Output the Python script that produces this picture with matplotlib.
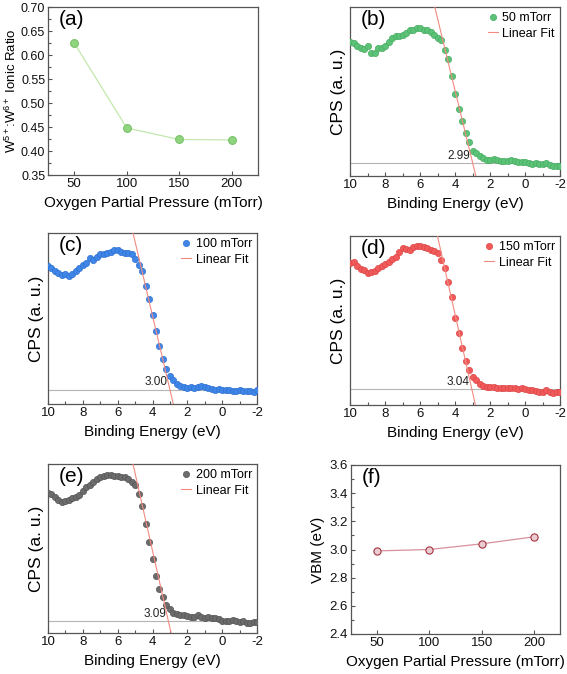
import matplotlib
matplotlib.use("Agg")
import matplotlib.pyplot as plt
from matplotlib.ticker import MultipleLocator, NullLocator, FormatStrFormatter

plt.rcParams['font.family'] = ['Liberation Sans', 'DejaVu Sans']
plt.rcParams['mathtext.fontset'] = 'custom'
plt.rcParams['mathtext.rm'] = 'Liberation Sans'
plt.rcParams['mathtext.it'] = 'Liberation Sans:italic'
plt.rcParams['axes.unicode_minus'] = False

# ---------------- data ----------------
pressure = [50, 100, 150, 200]
ionic_ratio = [0.625, 0.448, 0.424, 0.423]
vbm = [2.99, 3.00, 3.04, 3.09]

binding_energy = [10.0, 9.8, 9.6, 9.4, 9.2, 9.0, 8.8, 8.6, 8.4, 8.2,
                  8.0, 7.8, 7.6, 7.4, 7.2, 7.0, 6.8, 6.6, 6.4, 6.2,
                  6.0, 5.8, 5.6, 5.4, 5.2, 5.0, 4.8, 4.6, 4.4, 4.2,
                  4.0, 3.8, 3.6, 3.4, 3.2, 3.0, 2.8, 2.6, 2.4, 2.2,
                  2.0, 1.8, 1.6, 1.4, 1.2, 1.0, 0.8, 0.6, 0.4, 0.2,
                  0.0, -0.2, -0.4, -0.6, -0.8, -1.0, -1.2, -1.4, -1.6, -1.8,
                  -2.0]

cps_50 = [401, 398, 391, 383, 382, 389, 368, 370, 385, 385,
          391, 403, 415, 421, 421, 423, 428, 438, 437, 445,
          445, 439, 437, 433, 423, 415, 407, 378, 351, 300,
          245, 200, 165, 128, 101, 75, 70, 61, 53, 48,
          49, 51, 47, 45, 46, 44, 47, 44, 41, 41,
          41, 38, 36, 39, 37, 36, 39, 33, 31, 31,
          31]
cps_100 = [415, 409, 399, 392, 388, 389, 383, 391, 399, 407,
           417, 422, 437, 433, 441, 449, 450, 453, 456, 461,
           461, 457, 453, 453, 449, 435, 417, 399, 354, 314,
           267, 219, 174, 134, 104, 83, 71, 61, 55, 51,
           49, 50, 48, 50, 53, 50, 47, 45, 43, 45,
           41, 43, 41, 39, 39, 41, 39, 39, 39, 35,
           43]
cps_150 = [426, 428, 416, 409, 404, 396, 400, 402, 412, 416,
           422, 430, 438, 444, 458, 472, 468, 466, 474, 478,
           476, 474, 470, 466, 462, 456, 436, 410, 368, 324,
           261, 216, 172, 131, 106, 84, 75, 62, 56, 54,
           54, 53, 50, 50, 50, 51, 51, 50, 48, 50,
           48, 44, 44, 42, 38, 39, 44, 40, 36, 38,
           40]
cps_200 = [421, 417, 409, 399, 393, 396, 399, 405, 407, 415,
           427, 439, 445, 453, 461, 468, 472, 475, 475, 471,
           471, 467, 467, 461, 453, 443, 417, 381, 327, 272,
           222, 172, 132, 107, 83, 71, 61, 57, 53, 53,
           51, 49, 49, 53, 49, 46, 49, 46, 45, 41,
           37, 37, 37, 38, 36, 33, 35, 31, 31, 33,
           33]

spectra = [cps_50, cps_100, cps_150, cps_200]
spectrum_labels = ['50 mTorr', '100 mTorr', '150 mTorr', '200 mTorr']
baseline_level = [39, 43, 48, 36]
fit_slope = [216, 222, 234, 232]
panel_letters = ['(b)', '(c)', '(d)', '(e)']

# ---------------- styles / layout ----------------
W, H = 567, 674
fig = plt.figure(figsize=(W / 100, H / 100), dpi=100)

def px_axes(left, top, right, bottom):
    return fig.add_axes([left / W, 1 - bottom / H, (right - left) / W, (bottom - top) / H])

spine_color = '#555555'
tick_fs = 9.5
label_fs = 11
letter_fs = 15

def style(ax):
    for s in ax.spines.values():
        s.set_color(spine_color)
        s.set_linewidth(0.9)
    ax.tick_params(which='both', direction='in', colors=spine_color, labelcolor='#111111',
                   labelsize=tick_fs, width=0.8, pad=2.5)
    ax.tick_params(which='major', length=3)
    ax.tick_params(which='minor', length=2)

# (a)
axa = px_axes(48, 7, 258, 175)
style(axa)
axa.tick_params(axis='y', labelsize=9, pad=2)
axa.plot(pressure, ionic_ratio, '-', color='#c3e8ad', lw=0.9, zorder=2)
axa.plot(pressure, ionic_ratio, 'o', ms=5.6, mfc='#90d47f', mec='#78c268', mew=0.8, zorder=3)
axa.set_xlim(25, 225)
axa.set_ylim(0.35, 0.70)
axa.xaxis.set_major_locator(MultipleLocator(50))
axa.xaxis.set_minor_locator(NullLocator())
axa.yaxis.set_major_locator(MultipleLocator(0.05))
axa.yaxis.set_minor_locator(MultipleLocator(0.025))
axa.yaxis.set_major_formatter(FormatStrFormatter('%.2f'))
axa.set_xlabel('Oxygen Partial Pressure (mTorr)', fontsize=label_fs, labelpad=4)
axa.set_ylabel('W$^{5+}$:W$^{6+}$ Ionic Ratio', fontsize=9.5, labelpad=1)
axa.text(0.05, 0.98, '(a)', transform=axa.transAxes, ha='left', va='top', fontsize=letter_fs)

# spectra
boxes = [(350, 7, 560, 176, 507), (48, 233, 257, 404, 513),
         (350, 236, 560, 405, 507), (48, 464, 257, 633, 507)]
colors = [('#5cc277', '#47ad62'), ('#3f86e8', '#2f72d0'),
          ('#f05a5a', '#dd4646'), ('#6c6c6c', '#555555')]
fit_color = '#f28a80'

for i in range(4):
    l, t, r, b, ymax = boxes[i]
    ax = px_axes(l, t, r, b)
    style(ax)
    base = baseline_level[i]
    ax.axhline(base, color='#b5b5b5', lw=0.8, zorder=1)
    fc, ec = colors[i]
    ax.plot(binding_energy, spectra[i], 'o', ms=4.5, mfc=fc, mec=ec, mew=0.5,
            label=spectrum_labels[i], zorder=3)
    e0 = vbm[i]
    s = fit_slope[i]
    e_lo = e0 + (-20 - base) / s
    e_hi = e0 + (ymax + 20 - base) / s
    ax.plot([e_lo, e_hi], [base + s * (e_lo - e0), base + s * (e_hi - e0)],
            '-', color=fit_color, lw=0.8, label='Linear Fit', zorder=4)
    ax.text(e0 + 0.13, base + 4, f'{vbm[i]:.2f}', ha='right', va='bottom', fontsize=8.5,
            color='#222222')
    ax.set_xlim(10, -2)
    ax.set_ylim(0, ymax)
    ax.xaxis.set_major_locator(MultipleLocator(2))
    ax.xaxis.set_minor_locator(MultipleLocator(1))
    ax.yaxis.set_major_locator(NullLocator())
    ax.yaxis.set_minor_locator(NullLocator())
    ax.set_xlabel('Binding Energy (eV)', fontsize=label_fs, labelpad=4)
    ax.set_ylabel('CPS (a. u.)', fontsize=12.5, labelpad=3)
    ax.text(0.05, 0.98, panel_letters[i], transform=ax.transAxes, ha='left', va='top',
            fontsize=letter_fs)
    ax.legend(loc='upper right', frameon=False, fontsize=9, handlelength=0.8,
              handletextpad=0.4, labelspacing=0.3, borderaxespad=0.2, borderpad=0.2,
              markerscale=1.0)

# (f)
axf = px_axes(351, 465, 560, 634)
style(axf)
axf.plot(pressure, vbm, '-', color='#d9909c', lw=0.9, zorder=2)
axf.plot(pressure, vbm, 'o', ms=5.2, mfc='#e9cdd3', mec='#a8323f', mew=0.8, zorder=3)
axf.set_xlim(25, 225)
axf.set_ylim(2.4, 3.6)
axf.xaxis.set_major_locator(MultipleLocator(50))
axf.xaxis.set_minor_locator(NullLocator())
axf.yaxis.set_major_locator(MultipleLocator(0.2))
axf.yaxis.set_minor_locator(MultipleLocator(0.1))
axf.yaxis.set_major_formatter(FormatStrFormatter('%.1f'))
axf.set_xlabel('Oxygen Partial Pressure (mTorr)', fontsize=label_fs, labelpad=4)
axf.set_ylabel('VBM (eV)', fontsize=label_fs, labelpad=3)
axf.text(0.05, 0.98, '(f)', transform=axf.transAxes, ha='left', va='top', fontsize=letter_fs)

fig.savefig('out.png', dpi=100)
